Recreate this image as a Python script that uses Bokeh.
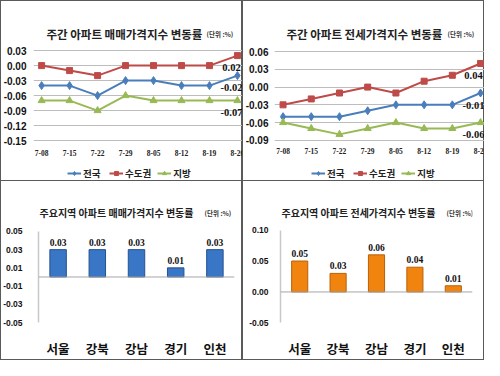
from bokeh.plotting import figure
from bokeh.layouts import row, column
from bokeh.models import (ColumnDataSource, FixedTicker, PrintfTickFormatter, Legend,
                          LegendItem, LabelSet, Label, Span, Range1d, FactorRange)
from bokeh.embed import file_html
from bokeh.resources import INLINE

# ---------------- data ----------------
weeks = ["7-08", "7-15", "7-22", "7-29", "8-05", "8-12", "8-19", "8-26"]
series_names = ["전국", "수도권", "지방"]

sale_national = [-0.04, -0.04, -0.06, -0.03, -0.03, -0.04, -0.04, -0.02]
sale_capital = [0.00, -0.01, -0.02, 0.00, 0.00, 0.00, 0.00, 0.02]
sale_local = [-0.07, -0.07, -0.09, -0.06, -0.07, -0.07, -0.07, -0.07]

jeonse_national = [-0.05, -0.05, -0.05, -0.04, -0.03, -0.03, -0.03, -0.01]
jeonse_capital = [-0.03, -0.02, -0.01, 0.00, -0.01, 0.01, 0.02, 0.04]
jeonse_local = [-0.06, -0.07, -0.08, -0.07, -0.06, -0.07, -0.07, -0.06]

regions = ["서울", "강북", "강남", "경기", "인천"]
region_sale = [0.03, 0.03, 0.03, 0.01, 0.03]
region_jeonse = [0.05, 0.03, 0.06, 0.04, 0.01]

sale_ticks = [0.03, 0.00, -0.03, -0.06, -0.09, -0.12, -0.15]
jeonse_ticks = [0.06, 0.03, 0.00, -0.03, -0.06, -0.09]
region_sale_ticks = [0.05, 0.03, 0.01, -0.01, -0.03, -0.05]
region_jeonse_ticks = [0.10, 0.05, 0.00, -0.05]

title_sale = "주간 아파트 매매가격지수 변동률"
title_jeonse = "주간 아파트 전세가격지수 변동률"
title_region_sale = "주요지역 아파트 매매가격지수 변동률"
title_region_jeonse = "주요지역 아파트 전세가격지수 변동률"
unit_text = "(단위 :%)"

# ---------------- styles ----------------
KR = "Noto Sans CJK KR"
NUM = "Liberation Sans"
colors = ["#4a7ebb", "#be4b48", "#98b954"]
markers = ["diamond", "square", "triangle"]
msizes = [8, 6, 7]
BORDER = "#5a5a5a"


def panel_style(p, shadow):
    p.border_fill_color = None
    p.background_fill_color = None
    p.outline_line_color = None
    p.styles = {"background-color": "white", "box-shadow": shadow}


def heading(p, text, size, pos, unit_pos):
    p.add_layout(Label(x=pos[0], y=pos[1], x_units="screen", y_units="screen", text=text,
                       text_font=KR, text_font_size=size, text_font_style="bold",
                       text_color="#222222", text_baseline="middle"))
    p.add_layout(Label(x=unit_pos[0], y=unit_pos[1], x_units="screen", y_units="screen",
                       text=unit_text, text_font=KR, text_font_size="6.5px",
                       text_font_style="bold", text_color="#333333", text_baseline="bottom"))


def line_panel(title, series, ticks, xr, yr, border_left, standoff, title_pos, unit_pos,
               legend_pos, xlab_offset, end_dx, shadow):
    p = figure(width=242, height=180, output_backend="svg", toolbar_location=None,
               title=None, x_range=Range1d(*xr), y_range=Range1d(*yr),
               min_border_left=border_left, min_border_right=0,
               min_border_top=0, min_border_bottom=0)
    panel_style(p, shadow)
    heading(p, title, "11.5px", title_pos, unit_pos)

    idx = list(range(len(weeks)))
    items = []
    for name, vals, c, mk, ms in zip(series_names, series, colors, markers, msizes):
        src = ColumnDataSource(dict(x=idx, y=vals))
        ln = p.line("x", "y", source=src, line_color=c, line_width=2)
        sc = p.scatter("x", "y", source=src, marker=mk, size=ms, fill_color=c, line_color=c)
        items.append(LegendItem(label=name, renderers=[ln, sc]))

    # end-of-series value labels
    last = ColumnDataSource(dict(x=[idx[-1]] * len(series), y=[s[-1] for s in series],
                                 t=["%.2f" % s[-1] for s in series]))
    p.add_layout(LabelSet(x="x", y="y", text="t", source=last, y_offset=-12, x_offset=end_dx,
                          text_align="center", text_baseline="middle",
                          text_font=NUM, text_font_size="10.5px", text_font_style="bold",
                          text_color="#111111"))

    # category labels under the lowest gridline
    xl = ColumnDataSource(dict(x=idx, y=[min(ticks)] * len(idx), t=weeks))
    p.add_layout(LabelSet(x="x", y="y", text="t", source=xl, y_offset=xlab_offset,
                          text_align="center", text_baseline="middle",
                          text_font=NUM, text_font_size="7.5px", text_font_style="bold",
                          text_color="#222222"))

    p.xaxis.visible = False

    p.yaxis.ticker = FixedTicker(ticks=ticks)
    p.yaxis.formatter = PrintfTickFormatter(format="%.2f")
    p.yaxis.axis_line_color = None
    p.yaxis.major_tick_line_color = None
    p.yaxis.minor_tick_line_color = None
    p.yaxis.major_label_text_font = NUM
    p.yaxis.major_label_text_font_size = "10px"
    p.yaxis.major_label_text_font_style = "bold"
    p.yaxis.major_label_text_color = "#111111"
    p.yaxis.major_label_standoff = standoff

    p.xgrid.visible = False
    p.ygrid.grid_line_color = "#bdbdbd"
    p.ygrid.grid_line_width = 1

    legend = Legend(items=items, orientation="horizontal", location=legend_pos,
                    border_line_color=None, background_fill_alpha=0,
                    label_text_font=KR, label_text_font_size="9.5px",
                    label_text_font_style="bold", label_text_color="#222222",
                    glyph_width=14, glyph_height=10, label_height=10, label_standoff=2,
                    spacing=6, padding=0, margin=0)
    p.add_layout(legend, "center")
    return p


def bar_panel(title, vals, ticks, yr, fill, edge, border_left, border_right, standoff,
              title_pos, unit_pos, shadow):
    p = figure(width=242, height=180, output_backend="svg", toolbar_location=None,
               title=None, x_range=FactorRange(factors=regions), y_range=Range1d(*yr),
               min_border_left=border_left, min_border_right=border_right,
               min_border_top=0, min_border_bottom=24)
    panel_style(p, shadow)
    heading(p, title, "10px", title_pos, unit_pos)

    src = ColumnDataSource(dict(x=regions, top=vals, t=["%.2f" % v for v in vals]))
    p.vbar(x="x", top="top", bottom=0, width=0.42, source=src, fill_color=fill,
           line_color=edge, line_width=1)
    p.add_layout(Span(location=0, dimension="width", line_color="#a6a6a6", line_width=1))
    p.add_layout(LabelSet(x="x", y="top", text="t", source=src, y_offset=4,
                          text_align="center", text_baseline="bottom",
                          text_font=NUM, text_font_size="9.5px", text_font_style="bold",
                          text_color="#111111"))

    p.xaxis.axis_line_color = None
    p.xaxis.major_tick_line_color = None
    p.xaxis.minor_tick_line_color = None
    p.xaxis.major_label_text_font = KR
    p.xaxis.major_label_text_font_size = "12.5px"
    p.xaxis.major_label_text_font_style = "bold"
    p.xaxis.major_label_text_color = "#111111"
    p.xaxis.major_label_standoff = 9

    p.yaxis.ticker = FixedTicker(ticks=ticks)
    p.yaxis.bounds = (min(ticks), max(ticks))
    p.yaxis.formatter = PrintfTickFormatter(format="%.2f")
    p.yaxis.axis_line_color = "#c8c8c8"
    p.yaxis.axis_line_width = 1.5
    p.yaxis.major_tick_line_color = None
    p.yaxis.minor_tick_line_color = None
    p.yaxis.major_label_text_font = NUM
    p.yaxis.major_label_text_font_size = "8.5px"
    p.yaxis.major_label_text_font_style = "bold"
    p.yaxis.major_label_text_color = "#111111"
    p.yaxis.major_label_standoff = standoff

    p.xgrid.visible = False
    p.ygrid.visible = False
    return p


p1 = line_panel(title_sale, [sale_national, sale_capital, sale_local], sale_ticks,
                (-0.29, 7.18), (-0.2298, 0.1302), 29, 1,
                (13, 147), (173, 142), (34, 0), -12, -6,
                "inset 1px 1px 0 %s, inset -1px 0 0 %s" % (BORDER, BORDER))
p2 = line_panel(title_jeonse, [jeonse_national, jeonse_capital, jeonse_local], jeonse_ticks,
                (-0.303, 7.14), (-0.158, 0.1465), 31, 0,
                (12, 147), (173, 142), (37, 0), -10.5, -7,
                "inset -1px 1px 0 %s, inset 1px 0 0 %s" % (BORDER, BORDER))
p3 = bar_panel(title_region_sale, region_sale, region_sale_ticks, (-0.051, 0.1058),
               "#3a76c6", "#24528f", 35, 8, 10, (1, 111), (166, 106),
               "inset 1px -1px 0 %s, inset -1px 1px 0 %s" % (BORDER, BORDER))
p4 = bar_panel(title_region_jeonse, region_jeonse, region_jeonse_ticks, (-0.051, 0.1802),
               "#f0840f", "#b8610a", 38, 12, 6, (1, 111), (166, 106),
               "inset -1px -1px 0 %s, inset 1px 1px 0 %s" % (BORDER, BORDER))

layout = column(row(p1, p2), row(p3, p4))

with open("out.html", "w") as f:
    f.write(file_html(layout, INLINE))
